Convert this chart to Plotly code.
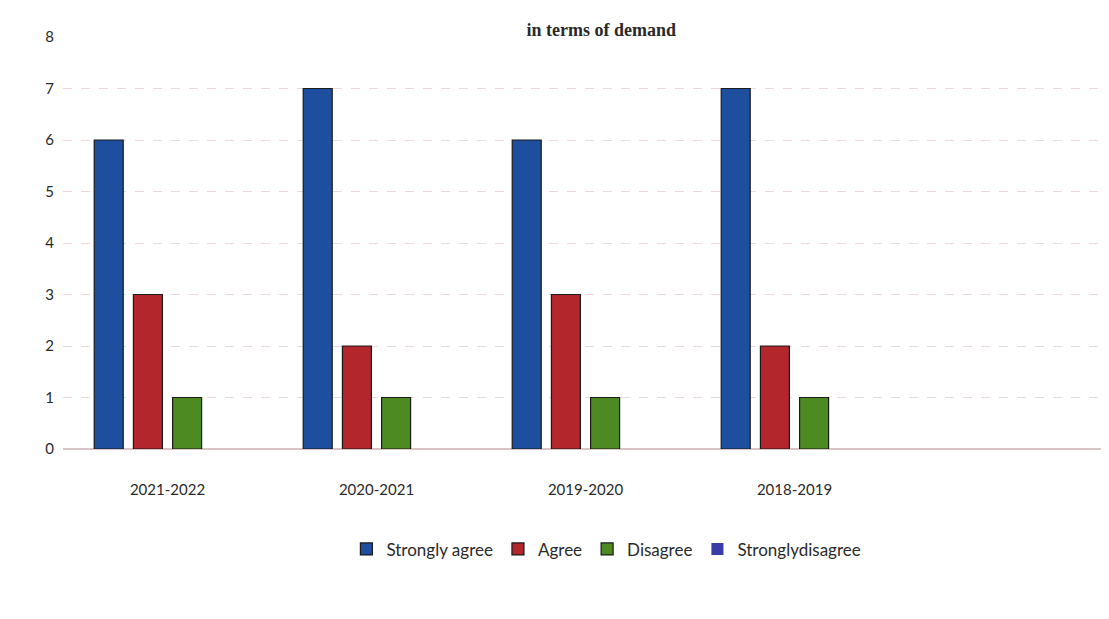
import plotly.graph_objects as go

years = ["2021-2022", "2020-2021", "2019-2020", "2018-2019"]
strongly_agree = [6, 7, 6, 7]
agree = [3, 2, 3, 2]
disagree = [1, 1, 1, 1]
strongly_disagree = [0, 0, 0, 0]
y_ticks = [0, 1, 2, 3, 4, 5, 6, 7, 8]

series = [
    ("Strongly agree", strongly_agree, "#1D4F9E", "#1a1a1a"),
    ("Agree", agree, "#B3262B", "#1a1a1a"),
    ("Disagree", disagree, "#4E8A22", "#1a1a1a"),
    ("Stronglydisagree", strongly_disagree, "#3A3AA8", "rgba(0,0,0,0)"),
]

fig = go.Figure()
for name, vals, col, lc in series:
    fig.add_trace(go.Bar(
        x=years, y=vals, name=name,
        marker=dict(color=col, line=dict(color=lc, width=1.2)),
    ))

fig.update_layout(
    width=1109, height=619,
    paper_bgcolor="white", plot_bgcolor="white",
    margin=dict(l=55, r=9, t=29, b=178),
    barmode="group", bargap=0.25, bargroupgap=0.26,
    title=dict(text="<b>in terms of demand</b>", x=0.535, xanchor="center",
               y=0.975, yanchor="top", yref="container",
               font=dict(family="Liberation Serif", size=18, color="#2a2a2a")),
    font=dict(family="Lato", size=15, color="#2a2a2a"),
    legend=dict(orientation="h", x=0.52, xanchor="center", y=-0.2,
                yanchor="top", font=dict(family="Lato", size=17, color="#2a2a2a"),
                itemwidth=30, traceorder="normal"),
    showlegend=True,
)
fig.update_xaxes(range=[-0.5, 4.5], showgrid=False, showline=False,
                 ticks="", ticklabelstandoff=30,
                 tickfont=dict(family="Lato", size=15, color="#2a2a2a"))
fig.update_yaxes(range=[0, 8], tickvals=y_ticks, showgrid=True,
                 gridcolor="#ead8dc", griddash="dash", gridwidth=1,
                 zeroline=True, zerolinecolor="#d9c4c8", showline=False,
                 ticks="", ticklabelstandoff=8,
                 tickfont=dict(family="Lato", size=15, color="#2a2a2a"))

fig.write_html("out.html")
